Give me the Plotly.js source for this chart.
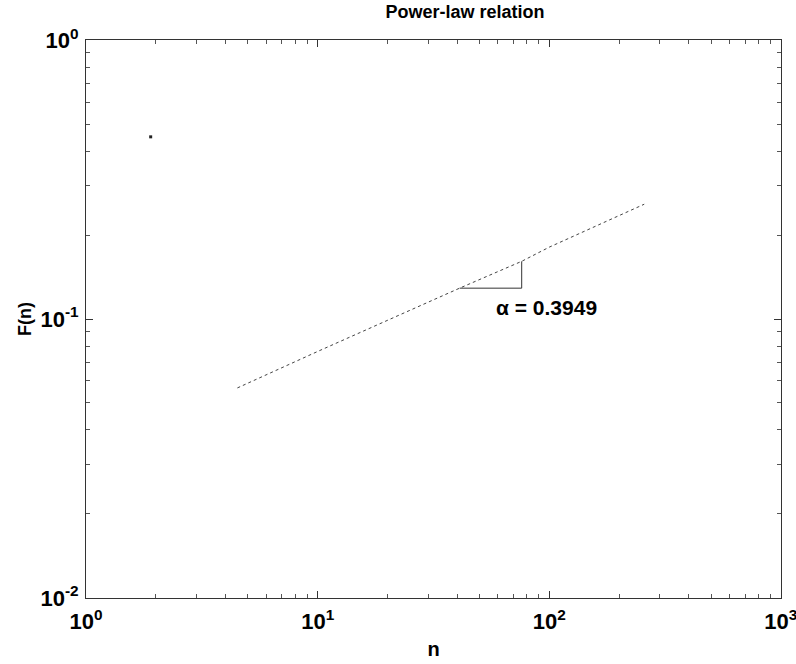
<!DOCTYPE html>
<html>
<head>
<meta charset="utf-8">
<script src="https://cdn.plot.ly/plotly-3.0.1.min.js"></script>
<style>html,body{margin:0;padding:0;background:#fff;}#chart{width:796px;height:664px;}</style>
</head>
<body>
<div id="chart"></div>
<script>
// Data
const fitN = [4.5, 10, 41, 76, 100, 257];
const fitF = [0.0566, 0.0765, 0.129, 0.161, 0.181, 0.258];
const triN = [41, 76, 76];
const triF = [0.129, 0.129, 0.161];
const pointN = [1.9];
const pointF = [0.45];
const xTickVals = [1, 10, 100, 1000];
const xTickText = ['10<sup>0</sup>', '10<sup>1</sup>', '10<sup>2</sup>', '10<sup>3</sup>'];
const yTickVals = [0.01, 0.1, 1];
const yTickText = ['10<sup>-2</sup>', '10<sup>-1</sup>', '10<sup>0</sup>'];
const slopeLabel = 'α = 0.3949';
const slopeLabelPos = [97, 0.110];

const font = 'Liberation Sans, Arial, sans-serif';

const traces = [
  {x: fitN, y: fitF, type: 'scatter', mode: 'lines',
   line: {color: '#444', width: 1, dash: 'dot'}, hoverinfo: 'skip'},
  {x: triN, y: triF, type: 'scatter', mode: 'lines',
   line: {color: '#333', width: 1}, hoverinfo: 'skip'},
  {x: pointN, y: pointF, type: 'scatter', mode: 'markers',
   marker: {color: '#222', size: 3, symbol: 'square'}, hoverinfo: 'skip'}
];

const axisCommon = {
  type: 'log', showgrid: false, zeroline: false,
  showline: true, linecolor: '#333', linewidth: 1, mirror: 'ticks',
  ticks: 'inside', ticklen: 7, tickcolor: '#333', tickwidth: 1,
  ticklabeloverflow: 'allow',
  tickfont: {family: font, size: 22, color: '#000', weight: 'bold'},
  minor: {ticks: 'inside', ticklen: 4, tickcolor: '#555', dtick: 'D1', showgrid: false}
};

const layout = {
  width: 796, height: 664,
  paper_bgcolor: '#fff', plot_bgcolor: '#fff',
  margin: {l: 86, r: 15, t: 40, b: 66},
  showlegend: false,
  title: {text: 'Power-law relation', x: 0.5454, xref: 'paper', xanchor: 'center',
          y: 0.982, yanchor: 'middle', yref: 'container',
          font: {family: font, size: 18, color: '#000', weight: 'bold'}},
  xaxis: Object.assign({}, axisCommon, {
    range: [-0.0005, 3.0005], tickvals: xTickVals, ticktext: xTickText, tickangle: 0,
    ticklabelstandoff: 4,
    title: {text: 'n', standoff: 8, font: {family: font, size: 20, color: '#000', weight: 'bold'}}
  }),
  yaxis: Object.assign({}, axisCommon, {
    range: [-2.0005, 0.0005], tickvals: yTickVals, ticktext: yTickText,
    ticklabelstandoff: 2,
    title: {text: 'F(n)', standoff: 4, font: {family: font, size: 18, color: '#000', weight: 'bold'}}
  }),
  annotations: [{
    x: Math.log10(slopeLabelPos[0]), y: Math.log10(slopeLabelPos[1]),
    xref: 'x', yref: 'y', text: slopeLabel, showarrow: false,
    font: {family: font, size: 21, color: '#000', weight: 'bold'}
  }]
};

Plotly.newPlot('chart', traces, layout, {displayModeBar: false, staticPlot: true});
</script>
</body>
</html>
